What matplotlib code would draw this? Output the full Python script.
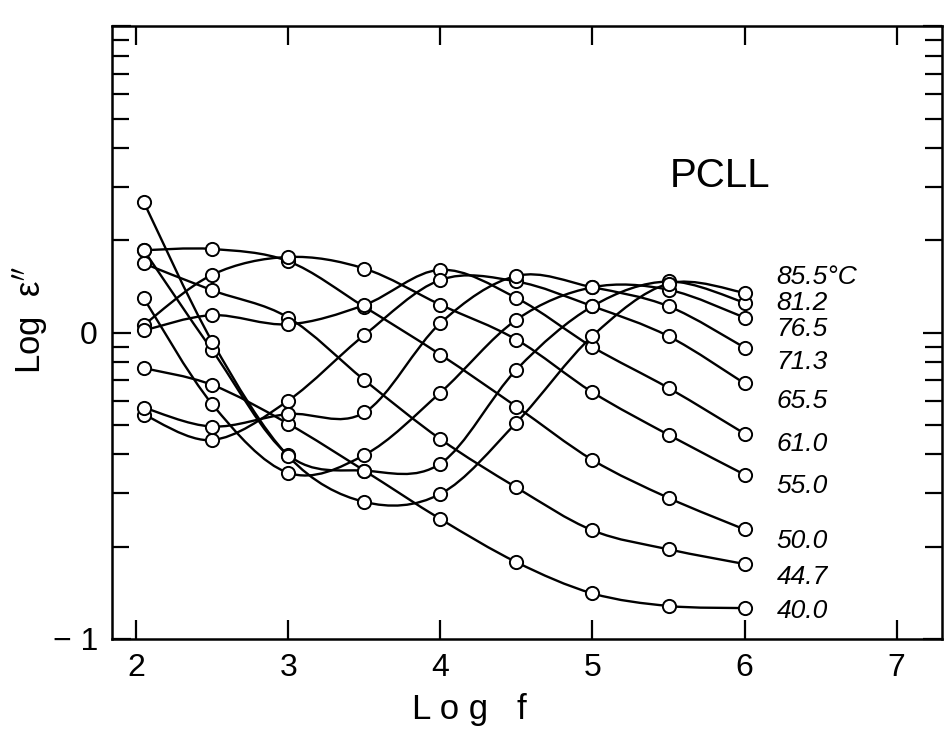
import numpy as np
import matplotlib.pyplot as plt
from matplotlib.path import Path
from matplotlib.patches import PathPatch

plt.rcParams['font.family'] = ['Liberation Sans', 'DejaVu Sans']

# log f of the measuring points
log_f = [2.05, 2.5, 3.0, 3.5, 4.0, 4.5, 5.0, 5.5, 6.0]

# log e'' for every temperature
t_400 = [-0.116, -0.171, -0.298, -0.451, -0.609, -0.750, -0.852, -0.893, -0.900]
t_447 = [0.226, 0.138, 0.049, -0.155, -0.348, -0.506, -0.646, -0.708, -0.756]
t_500 = [0.269, 0.273, 0.233, 0.084, -0.072, -0.242, -0.416, -0.540, -0.643]
t_550 = [0.025, 0.189, 0.247, 0.209, 0.091, -0.023, -0.195, -0.334, -0.464]
t_610 = [0.007, 0.057, 0.027, 0.090, 0.205, 0.113, -0.047, -0.181, -0.330]
t_655 = [-0.268, -0.351, -0.222, -0.008, 0.172, 0.167, 0.086, -0.012, -0.166]
t_713 = [-0.245, -0.307, -0.266, -0.261, 0.031, 0.185, 0.148, 0.086, -0.049]
t_765 = [0.112, -0.234, -0.458, -0.400, -0.196, 0.042, 0.148, 0.140, 0.049]
t_812 = [0.269, -0.058, -0.400, -0.451, -0.428, -0.121, 0.086, 0.167, 0.098]
t_855 = [0.426, -0.030, -0.404, -0.553, -0.527, -0.294, -0.011, 0.160, 0.130]

series = [t_400, t_447, t_500, t_550, t_610, t_655, t_713, t_765, t_812, t_855]
labels = ['40.0', '44.7', '50.0', '55.0', '61.0', '65.5', '71.3', '76.5', '81.2', '85.5°C']
label_y = [-0.91, -0.80, -0.68, -0.50, -0.364, -0.223, -0.097, 0.011, 0.096, 0.180]


def smooth_path(xs, ys):
    # bezier segments through the points (Catmull-Rom style handles)
    pts = np.column_stack([xs, ys])
    verts = [pts[0]]
    codes = [Path.MOVETO]
    n = len(pts)
    for i in range(n - 1):
        p0 = pts[max(i - 1, 0)]
        p1 = pts[i]
        p2 = pts[i + 1]
        p3 = pts[min(i + 2, n - 1)]
        verts += [p1 + (p2 - p0) / 6, p2 - (p3 - p1) / 6, p2]
        codes += [Path.CURVE4] * 3
    return Path(verts, codes)


fig = plt.figure(figsize=(9.48, 7.35), dpi=100)
ax = fig.add_axes([0.118, 0.131, 0.876, 0.833])

for ys in series:
    ax.add_patch(PathPatch(smooth_path(log_f, ys), fill=False, lw=1.7, color='black', zorder=2))
    ax.plot(log_f, ys, 'o', ms=9.5, mfc='white', mec='black', mew=1.4, zorder=3)

for txt, yy in zip(labels, label_y):
    ax.text(6.21, yy, txt, fontsize=19, style='italic', va='center', ha='left')

ax.text(5.84, 0.51, 'PCLL', fontsize=29, ha='center', va='center')

ax.set_xlim(1.84, 7.3)
ax.set_ylim(-1, 1)
ax.set_xticks([2, 3, 4, 5, 6, 7])
ax.set_yticks([-1, 0, 1])
ax.set_yticklabels(['− 1', '0', ''])
minor = [n + np.log10(k) for n in (-1, 0) for k in range(2, 10)]
ax.set_yticks(minor, minor=True)
ax.tick_params(which='both', direction='in', top=True, right=True, width=1.6, labelsize=23, pad=10)
ax.tick_params(which='major', length=14)
ax.tick_params(which='minor', length=12)
for sp in ax.spines.values():
    sp.set_linewidth(1.8)

ax.set_xlabel('L o g   f', fontsize=25)
ax.xaxis.set_label_coords(0.43, -0.088)
ax.set_ylabel("Log  ε$''$", fontsize=25)
ax.yaxis.set_label_coords(-0.075, 0.52)

fig.savefig('out.png', dpi=100)
